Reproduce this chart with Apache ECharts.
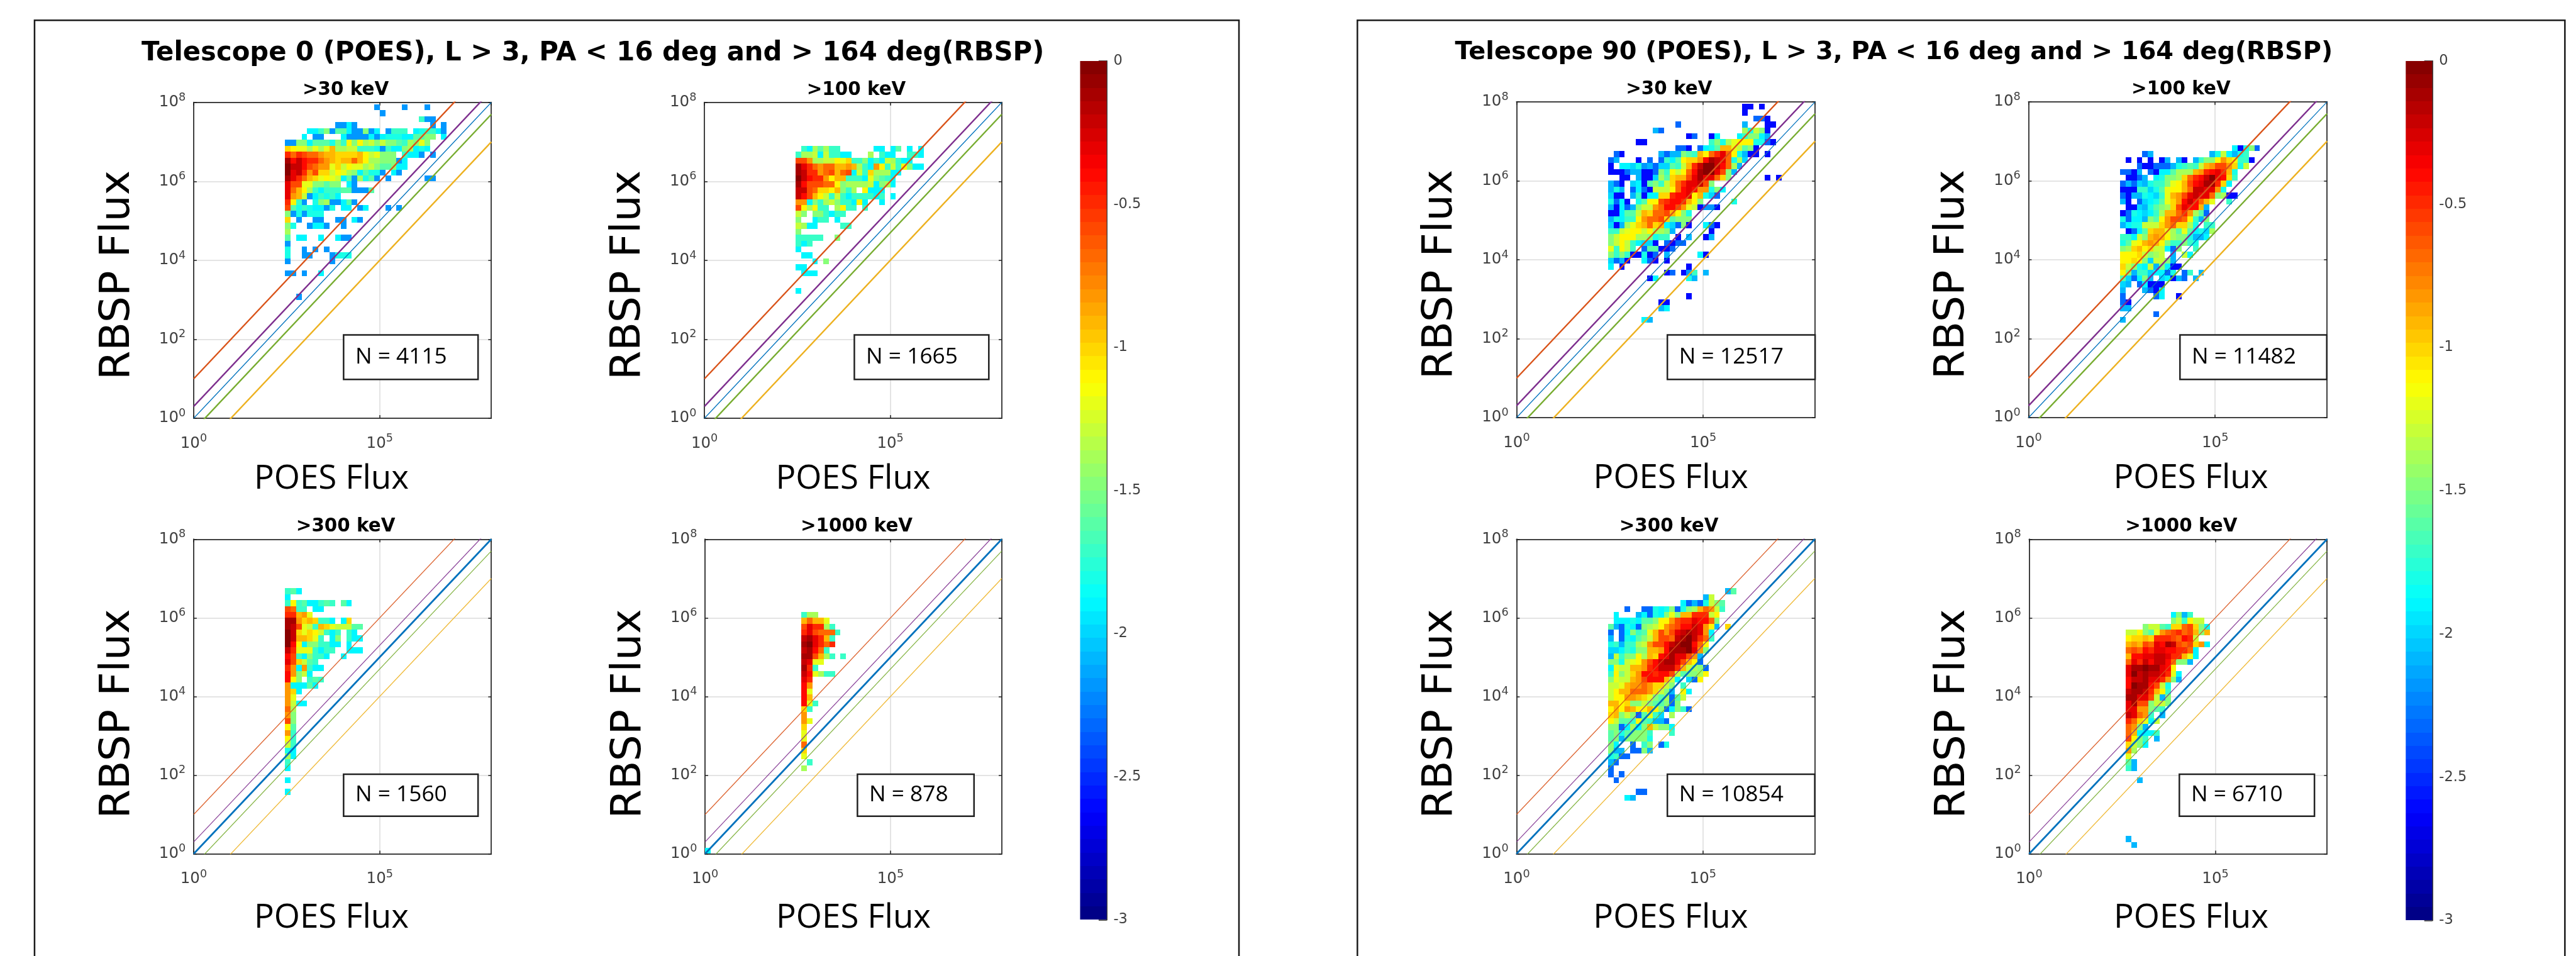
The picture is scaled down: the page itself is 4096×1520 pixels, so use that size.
<!DOCTYPE html>
<html><head><meta charset="utf-8">
<style>html,body{margin:0;padding:0;background:#fff}#c{width:4096px;height:1520px}</style>
<script src="https://cdn.jsdelivr.net/npm/echarts@6/dist/echarts.min.js"></script>
</head><body><div id="c"></div>
<script>
// Each string is one row of a 2-D histogram, read top row first, first char = first occupied POES bin.
// Char = magnitude of log10(fraction) in tenths, base 36 ('0' = 0, 'f' = -1.5, 'u' = -3.0); '.' = empty bin.
const t0_30 = ["................m....m...m",".................m","........................hmm",".........mmjm.............m.m","....jjhfmggjmmfmj.mhhh.jihhjm","...j.mm...jmmmmjmjiiijjggff.j","mmffjgggifhbfbedfdffghefcf","abccecec9eeddhhhimhjjfejij","575677899aaaa9bdcfff.hjjm.m","142455789a9979beefffmj","02246788cadbccedfggfjj","032586aadbcefjgiim.jm","13579acbcdjgmeigm.m......mm","366ccffgff.jm","379behjhhhggmmmg","389dmjhihj","5bhm.ifemmjgm","6gihijjmi.jj.mj...m.m","fmimiii","a.m..mm..mm.jm","fi..mjjm..m","e","g.jj..j..jmm","m","i..m.m.m","i..mm...miii","m.......m","","mm.m..j","","","","..m"];
const t0_100 = ["","","","","","","",".hjegehh......jj.jg.j.j","heedjdhhjj...e.hjj..hhj","668eeddbcahhfjhjdehjj","13578779989ehj8bhdhbfjj","1255876976jdhaeeejj","024558b99hhhjcfghj","1466677bfeeeedjfej","2267aab9fhe.bjjj","2469bdhdhjhhhhjh.j","88jfhedfhhjbj..j","6bebhh.ebhh.h","df.ffhjhh","f..jhh.j","dejj....hh","f","hhhhh..f","hjh","j",".jj","...j.f","jj",".jjj","","","j"];
const t0_300 = ["","","","","","","","","hgj","j","hbhgjjhgh.gj","67hh.jj","5598c","118a9ahhj.ja","126cdh9acdddgg","02acabdhjh.hj","0299ach.jf.hjj","04bjffhhjj.j","25ccchjhh..jjj","46hjfhhj..j","36adgh","58j8hjj","48fdj","4bf.hgh","8jjjgj","8aj","8c","8djj","7e","8f","6f","bg","8h","bh","dh","ij","ej","h","j","","j","","j"];
const t0_1000 = ["","","","","","","","","","","","",".hee",".9799c",".6355eh",".536777h",".21359h",".103575",".2147h",".1169eh.h",".23cc",".15h",".24cehh",".35",".48",".4c",".49",".4ch",".ah",".8",".8c",".a",".c",".c",".7",".a",".c","..h",".e"];
const t90_30 = ["........................qq.q","........................q","..........................nnq","............n...........l...qq","........ln..............eidfq","..............qn..qj...jhffjl",".....qq...........hfiecbbbiinq","............nnq.njig99cdgfq",".nq......lnllfgh9b7537bilqq.q","nl...q.n.nhjgbaa841237iek","q.jjkimlnkkghd95200247el","qqqnllqqnfhbdb7410036fl","..qq.lqqkega99631337af......q.q","lnq.kjqgfhda753326f","lil.njnqdddb743488ifj","kqq.lhqjjaa5443b9ikn","injq.igbb654459bf.....i","lqjnlfdd874468cdqmmq","qqjggd9a7769bfi","lijhhb8776agfff","kqleca97a9jknfq..jnq","hhdcbbdbeefl......q","fdbbbeefihh.q.l..ql","fdbdhjkkq.nqnn","chbdh.nggqqn","fhfhqqiqn.l.....jq","knlq..jnq.q","j.q...........q","..........qn.qmh.l",".......qj.....il","","","..............q",".........qq",".........lj","","......jl"];
const t90_100 = ["","","","","","","","....................jqifn","....nl..........lidjlih",".q.q.q.ql.lq.lhffb8abhhq","...nqqnnnlihghd98668aid","nnql.nqjjgeee9854359i",".qqnl.jiffea7542034ah","nlnklihhfcb9643115aj","qqqhhkigcbb9722338i","nqllijkhc98632337feqq","lq.nkjigca842479c..h",".qqkligfea63449l","qnijkjhe99758egn","injjlfgb8667bhlf","ljiiddda87aaei.hh",".qnjga99cegcgjike","hhjdf989beffillj","igcb989bfhhfhi","fea9baddjnf..h","bbbadfed.l.dj","bbabfkddfl","adfijdlfjqq","bflhhkjjni.nh.l","gknjfl.kjqln.l","kl.njqqq","l...lnqj","n.....nj..q","nq","ll","......n","l"];
const t90_300 = ["","","","","","","","",".....................lg",".................ld",".............jnlnidfg","...n..nnijifnife978dh",".j...ljnijfcf99555db",".jjjijggfbb86553447f","glnijnfedb87644238bl.a","n.njfhgc9686321238j","l.nijgfd9667210257h","ihlhhed8664210047b","kkjhiff9984111038f","ldhffbe9a4313368l","ffidcb864211369bn","jcdd9985422259defn","hbfda8445446dgffeb","fcdd9864449dj.knb","ddc98878aadf.h","db997778adfl.bj","dbb889acfgengd","99baffdfggfnf","b9b89bb9bfnjfhn","a9fdfngchk.e","bdgghbghlln","ffnjejf9dffj","gfigfffh...h","gflffffi","fj..n.hf.ni","fll.nnfl","ihnn","ln","n","n.n",".n","",".....nn","...jl"];
const t90_1000 = ["","","","","","","","","","","","",".........jflh",".........fdhbdd","....fddghaa76afj",".ddbfgc8765769f9",".baa9a5556745d",".989673412676a8j",".767453344557j",".94433223559cj",".735242247ffl",".31101134b",".30212235cj",".42213358fl",".401146di",".211259bh",".11336dlf",".3166fddf",".3388fgh",".2378h.l",".57acjd",".78fl",".79jjjh",".6bfh.l",".adfj",".8e",".c",".gl",".hl","","...l","","","","","","","","","",".l","..l"];
// Cells lying far left of the main block: [log10 POES, log10 RBSP, log10 fraction]
const t0_1000_far = [[0.075, 0.075, -1.9]];
const noFar = [];
const panelLabels = [">30 keV", ">100 keV", ">300 keV", ">1000 keV"];
const countsT0 = [4115, 1665, 1560, 878];
const countsT90 = [12517, 11482, 10854, 6710];
const mainTitles = ["Telescope 0 (POES), L > 3, PA < 16 deg and > 164 deg(RBSP)", "Telescope 90 (POES), L > 3, PA < 16 deg and > 164 deg(RBSP)"];
// Offsets of the reference lines y = k x, in decades of k: 10, 2, 1, 1/2, 1/10
const lineOffsets = [1, 0.30103, 0, -0.30103, -1];
const lineColors = ['#D95319', '#7E2F8E', '#0072BD', '#77AC30', '#EDB120'];
const colorbarTicks = [0, -0.5, -1, -1.5, -2, -2.5, -3];

const BIN = 0.15, X0 = 2.45, YTOP = 7.95;
const S = 4096 / 4176;
const s = v => v * S;

function jet(val) {
  const n = 64;
  let i = Math.floor((val + 3) / 3 * n);
  i = Math.max(0, Math.min(n - 1, i));
  const v = (i + 0.5) / n;
  const c = x => Math.round(255 * Math.max(0, Math.min(1, x)));
  return `rgb(${c(Math.min(4 * v - 1.5, -4 * v + 4.5))},${c(Math.min(4 * v - 0.5, -4 * v + 3.5))},${c(Math.min(4 * v + 0.5, -4 * v + 2.5))})`;
}
function cells(rows, far) {
  const out = [];
  rows.forEach((row, j) => {
    for (let c = 0; c < row.length; c++) {
      if (row[c] === '.') continue;
      out.push([X0 + BIN * c + BIN / 2, YTOP - BIN * j - BIN / 2, -parseInt(row[c], 36) / 10]);
    }
  });
  return out.concat(far);
}
const renderCell = (params, api) => {
  const a = api.coord([api.value(0) - BIN / 2, api.value(1) + BIN / 2]);
  const b = api.coord([api.value(0) + BIN / 2, api.value(1) - BIN / 2]);
  const x = Math.round(a[0]), y = Math.round(a[1]);
  return { type: 'rect', shape: { x, y, width: Math.round(b[0]) - x, height: Math.round(b[1]) - y }, style: { fill: jet(api.value(2)) } };
};

// Layout, in reference pixels. nx shifts the x-axis name horizontally.
const panels = [
  { rows: t0_30, far: noFar, l: 314, r: 796.5, t: 166, b: 678, lab: 0, n: countsT0[0], box: [557, 775, 543, 615], top: true, nx: -18 },
  { rows: t0_100, far: noFar, l: 1142, r: 1624, t: 166, b: 678, lab: 1, n: countsT0[1], box: [1385, 1603, 543, 615], top: true, nx: 0 },
  { rows: t0_300, far: noFar, l: 314, r: 796.5, t: 874, b: 1384, lab: 2, n: countsT0[2], box: [557, 775, 1255, 1323], nx: -18 },
  { rows: t0_1000, far: t0_1000_far, l: 1143, r: 1624, t: 874, b: 1384, lab: 3, n: countsT0[3], box: [1390, 1579, 1255, 1323], nx: 0 },
  { rows: t90_30, far: noFar, l: 2458.5, r: 2942.5, t: 165, b: 677, lab: 0, n: countsT90[0], box: [2703, 2942.5, 543, 615], top: true, nx: 8 },
  { rows: t90_100, far: noFar, l: 3288.5, r: 3772.5, t: 165, b: 677, lab: 1, n: countsT90[1], box: [3534, 3772, 543, 615], top: true, nx: 21 },
  { rows: t90_300, far: noFar, l: 2458.5, r: 2942, t: 874, b: 1384, lab: 2, n: countsT90[2], box: [2703, 2942, 1255, 1323], nx: 8 },
  { rows: t90_1000, far: noFar, l: 3289.5, r: 3772.5, t: 874, b: 1384, lab: 3, n: countsT90[3], box: [3533, 3752, 1255, 1323], nx: 21 }
];
const bars = [{ l: 1751, r: 1794, t: 99, b: 1491 }, { l: 3900, r: 3943, t: 99, b: 1492 }];

const grid = [], xAxis = [], yAxis = [], series = [], title = [], graphic = [];
const AX = '#404040', FF = 'DejaVu Sans';
const tickLabel = { color: '#404040', fontFamily: FF, rich: { a: { fontSize: s(25), fontFamily: FF, color: '#404040' }, b: { fontSize: s(18), fontFamily: FF, color: '#404040', padding: [0, 0, s(16), 0] } } };
const pow = v => `{a|10}{b|${v}}`;

panels.forEach((p, i) => {
  grid.push({ left: s(p.l), top: s(p.t), width: s(p.r - p.l), height: s(p.b - p.t) });
  const line = { show: true, onZero: false, lineStyle: { color: AX, width: 2 } };
  const tick = { show: true, inside: true, length: s(5), lineStyle: { color: '#222', width: 1.5 } };
  const split = { show: true, lineStyle: { color: '#e4e4e4', width: 2 } };
  const gx = xAxis.length, gy = yAxis.length;
  const nameShift = p.nx < 0 ? [0, s(-2 * p.nx), 0, 0] : [0, 0, 0, s(2 * p.nx)];
  xAxis.push({ type: 'value', gridIndex: i, min: 0, max: 8, interval: 5, axisLine: line, axisTick: tick, splitLine: split,
    name: 'POES Flux', nameLocation: 'middle', nameGap: s(p.top ? 72 : 77),
    nameTextStyle: { fontFamily: 'Open Sans', fontSize: s(54), color: '#000', padding: nameShift },
    axisLabel: Object.assign({ show: true, margin: s(24), showMaxLabel: false, formatter: v => (v === 0 || v === 5) ? pow(v) : '' }, tickLabel) });
  xAxis.push({ type: 'value', gridIndex: i, min: 0, max: 8, interval: 5, position: 'top', axisLine: line, axisTick: tick, splitLine: { show: false }, axisLabel: { show: false } });
  yAxis.push({ type: 'value', gridIndex: i, min: 0, max: 8, interval: 2, axisLine: line, axisTick: tick, splitLine: split,
    name: 'RBSP Flux', nameLocation: 'middle', nameGap: s(89), nameRotate: 90,
    nameTextStyle: { fontFamily: FF, fontSize: s(68), color: '#000', padding: [0, s(p.top ? 48 : 56), 0, 0] },
    axisLabel: Object.assign({ show: true, margin: s(13), formatter: pow }, tickLabel) });
  yAxis.push({ type: 'value', gridIndex: i, min: 0, max: 8, interval: 2, position: 'right', axisLine: line, axisTick: tick, splitLine: { show: false }, axisLabel: { show: false } });
  series.push({ type: 'custom', xAxisIndex: gx, yAxisIndex: gy, z: 2, clip: true, silent: true, animation: false, data: cells(p.rows, p.far), renderItem: renderCell });
  lineOffsets.forEach((off, k) => {
    const thick = p.top ? (k === 2 ? 1.3 : 2.4) : (k === 2 ? 2.8 : 1.3);
    series.push({ type: 'line', xAxisIndex: gx, yAxisIndex: gy, z: 3, clip: true, silent: true, animation: false, showSymbol: false,
      data: [[0, off], [8, 8 + off]], lineStyle: { color: lineColors[k], width: thick, opacity: p.top ? 1 : (k === 2 ? 1 : 0.9) } });
  });
  title.push({ text: panelLabels[p.lab], left: s((p.l + p.r) / 2), top: s(p.t - 40), textAlign: 'center', textStyle: { fontFamily: FF, fontWeight: 'bold', fontSize: s(30), color: '#000' } });
  const [bl, br, bt, bb] = p.box;
  graphic.push({ type: 'rect', z: 50, shape: { x: s(bl), y: s(bt), width: s(br - bl), height: s(bb - bt) }, style: { fill: '#fff', stroke: '#222', lineWidth: 2.5 } });
  graphic.push({ type: 'text', z: 51, x: s(bl + 19), y: s((bt + bb) / 2), style: { text: 'N = ' + p.n, fontFamily: 'Open Sans', fontSize: s(36), fill: '#000', verticalAlign: 'middle' } });
});

bars.forEach((b, i) => {
  const gi = grid.length;
  grid.push({ left: s(b.l), top: s(b.t), width: s(b.r - b.l), height: s(b.b - b.t) });
  const gx = xAxis.length, gy = yAxis.length;
  xAxis.push({ type: 'value', gridIndex: gi, min: 0, max: 1, show: false });
  yAxis.push({ type: 'value', gridIndex: gi, min: -3, max: 0, interval: 0.5, position: 'right',
    axisLine: { show: true, onZero: false, lineStyle: { color: AX, width: 2 } }, axisTick: { show: true, inside: true, length: s(13), lineStyle: { color: '#222', width: 1.5 } }, splitLine: { show: false },
    axisLabel: { show: true, margin: s(11), fontFamily: FF, fontSize: s(23), color: '#404040', formatter: v => String(v) } });
  const band = [];
  for (let k = 0; k < 64; k++) band.push(-3 + (k + 0.5) * 3 / 64);
  series.push({ type: 'custom', xAxisIndex: gx, yAxisIndex: gy, z: 2, silent: true, animation: false, data: band.map(v => [v]),
    renderItem: (params, api) => {
      const v = api.value(0), h = 3 / 128;
      const a = api.coord([0, v + h]), c = api.coord([1, v - h]);
      const y = Math.round(a[1]);
      return { type: 'rect', shape: { x: a[0], y, width: c[0] - a[0], height: Math.round(c[1]) - y }, style: { fill: jet(v) } };
    } });
});

title.push({ text: mainTitles[0], left: s(956), top: s(60), textAlign: 'center', textStyle: { fontFamily: FF, fontWeight: 'bold', fontSize: s(42.6), color: '#000' } });
title.push({ text: mainTitles[1], left: s(3065), top: s(60), textAlign: 'center', textStyle: { fontFamily: FF, fontWeight: 'bold', fontSize: s(40.6), color: '#000' } });

// Figure frames, open at the bottom
[[56, 2008.5], [2200.5, 4158]].forEach(([l, r]) => {
  graphic.push({ type: 'polyline', z: 60, shape: { points: [[s(l), 1520], [s(l), s(33)], [s(r), s(33)], [s(r), 1520]] }, style: { stroke: '#1a1a1a', lineWidth: 2.5, fill: 'none' } });
});

const chart = echarts.init(document.getElementById('c'), null, { renderer: 'canvas', width: 4096, height: 1520 });
chart.setOption({ backgroundColor: '#fff', animation: false, title, grid, xAxis, yAxis, series, graphic });
</script></body></html>
